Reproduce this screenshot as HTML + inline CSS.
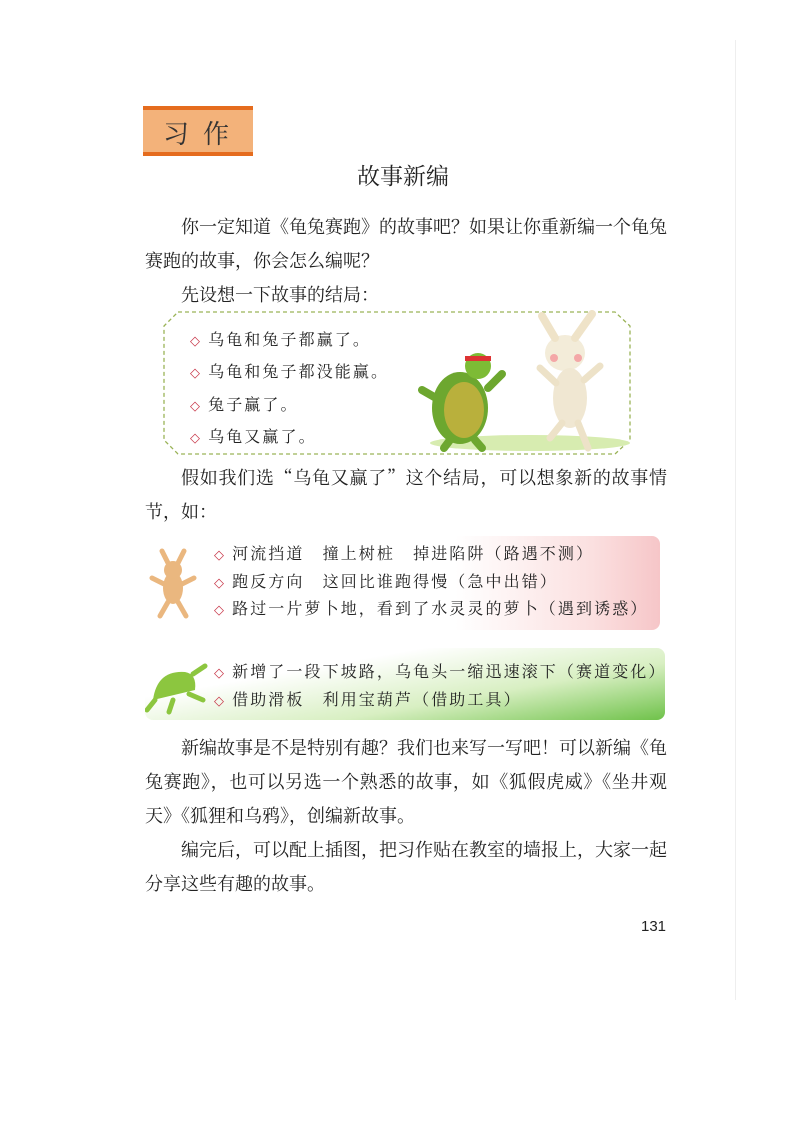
<!DOCTYPE html>
<html><head><meta charset="utf-8">
<style>
html,body{margin:0;padding:0;background:#fff;}
body{width:793px;height:1121px;position:relative;overflow:hidden;font-family:"Noto Serif CJK SC","Liberation Serif",serif;color:#222;}
.abs{position:absolute;}
.p{position:absolute;left:145px;width:522px;font-size:18px;line-height:34px;text-align:justify;text-align-last:left;}
.li{position:absolute;font-size:16px;letter-spacing:2.1px;white-space:nowrap;font-family:"Noto Serif CJK SC",serif;}
.d{color:#c8384a;margin-right:6px;font-family:"DejaVu Sans",sans-serif;font-size:13px;}
</style></head><body>
<div class="abs" style="left:735px;top:40px;width:1px;height:960px;background:#eee;"></div>

<div class="abs" style="left:143px;top:106px;width:110px;height:50px;background:#f3b27a;border-top:4px solid #e56c1e;border-bottom:4px solid #e56c1e;box-sizing:border-box;">
 <span style="position:absolute;left:20px;top:4px;font-size:26px;letter-spacing:14px;color:#333;">习作</span>
</div>
<div class="abs" style="left:357px;top:158px;font-size:23px;color:#222;">故事新编</div>

<div class="p" style="top:209px;text-indent:36px;">你一定知道《龟兔赛跑》的故事吧？如果让你重新编一个龟兔赛跑的故事，你会怎么编呢？</div>
<div class="p" style="top:277px;text-indent:36px;">先设想一下故事的结局：</div>

<svg class="abs" style="left:160px;top:308px" width="475" height="152">
 <path d="M18 4 H455 L470 18 V132 L455 146 H18 L4 132 V18 Z" fill="none" stroke="#9ab357" stroke-width="1.3" stroke-dasharray="4 3"/>
 <ellipse cx="370" cy="135" rx="100" ry="8" fill="#d7ecb0"/>
 <g>
  <ellipse cx="300" cy="100" rx="28" ry="36" fill="#6da72f"/>
  <ellipse cx="304" cy="102" rx="20" ry="28" fill="#b9b03c"/>
  <circle cx="318" cy="58" r="13" fill="#7dbb35"/>
  <rect x="305" y="48" width="26" height="5" fill="#d33"/>
  <path d="M276 90 L262 82 M328 80 L342 66 M290 132 L284 140 M315 132 L322 140" stroke="#6da72f" stroke-width="8" stroke-linecap="round"/>
 </g>
 <g>
  <ellipse cx="405" cy="45" rx="20" ry="18" fill="#f3ecd9"/>
  <path d="M395 30 L382 8 M415 30 L432 6" stroke="#efe3c8" stroke-width="8" stroke-linecap="round"/>
  <ellipse cx="410" cy="90" rx="17" ry="30" fill="#f0e7d2"/>
  <path d="M396 75 L380 60 M424 72 L440 58 M402 115 L390 130 M418 115 L428 140" stroke="#ede2c8" stroke-width="7" stroke-linecap="round"/>
  <circle cx="394" cy="50" r="4" fill="#f4a7a7"/><circle cx="418" cy="50" r="4" fill="#f4a7a7"/>
 </g>
</svg>
<div class="li" style="left:190px;top:327px;"><span class="d">◇</span>乌龟和兔子都赢了。</div>
<div class="li" style="left:190px;top:359px;"><span class="d">◇</span>乌龟和兔子都没能赢。</div>
<div class="li" style="left:190px;top:392px;"><span class="d">◇</span>兔子赢了。</div>
<div class="li" style="left:190px;top:424px;"><span class="d">◇</span>乌龟又赢了。</div>

<div class="p" style="top:460px;text-indent:36px;">假如我们选“乌龟又赢了”这个结局，可以想象新的故事情节，如：</div>

<div class="abs" style="left:205px;top:536px;width:455px;height:94px;border-radius:8px;background:linear-gradient(90deg,#fff 55%,#fbe0e0 85%,#f6c6c8 100%);"></div>
<svg class="abs" style="left:148px;top:548px" width="50" height="75">
 <ellipse cx="25" cy="40" rx="10" ry="16" fill="#eab77f"/>
 <circle cx="25" cy="22" r="9" fill="#eab77f"/>
 <path d="M20 15 L14 3 M30 15 L36 3 M16 36 L4 30 M34 36 L46 30 M20 54 L12 68 M30 54 L38 68" stroke="#eab77f" stroke-width="5" stroke-linecap="round"/>
</svg>
<div class="li" style="left:214px;top:541px;"><span class="d">◇</span>河流挡道　撞上树桩　掉进陷阱（路遇不测）</div>
<div class="li" style="left:214px;top:569px;"><span class="d">◇</span>跑反方向　这回比谁跑得慢（急中出错）</div>
<div class="li" style="left:214px;top:596px;"><span class="d">◇</span>路过一片萝卜地，看到了水灵灵的萝卜（遇到诱惑）</div>

<div class="abs" style="left:145px;top:648px;width:520px;height:72px;border-radius:8px;background:linear-gradient(170deg,#fff 30%,#d8efc2 65%,#6fc24a 100%);"></div>
<svg class="abs" style="left:145px;top:660px" width="65" height="55">
 <path d="M8 40 Q12 10 40 12 Q52 14 50 30 Z" fill="#8cc63f"/>
 <path d="M48 14 L60 6 M44 34 L58 40 M10 40 L2 50 M28 40 L24 52" stroke="#8cc63f" stroke-width="5" stroke-linecap="round"/>
</svg>
<div class="li" style="left:214px;top:659px;"><span class="d">◇</span>新增了一段下坡路，乌龟头一缩迅速滚下（赛道变化）</div>
<div class="li" style="left:214px;top:687px;"><span class="d">◇</span>借助滑板　利用宝葫芦（借助工具）</div>

<div class="p" style="top:730px;text-indent:36px;">新编故事是不是特别有趣？我们也来写一写吧！可以新编《龟兔赛跑》，也可以另选一个熟悉的故事，如《狐假虎威》《坐井观天》《狐狸和乌鸦》，创编新故事。</div>
<div class="p" style="top:832px;text-indent:36px;">编完后，可以配上插图，把习作贴在教室的墙报上，大家一起分享这些有趣的故事。</div>

<div class="abs" style="left:641px;top:918px;font-family:'Liberation Sans',sans-serif;font-size:15px;">131</div>
</body></html>
